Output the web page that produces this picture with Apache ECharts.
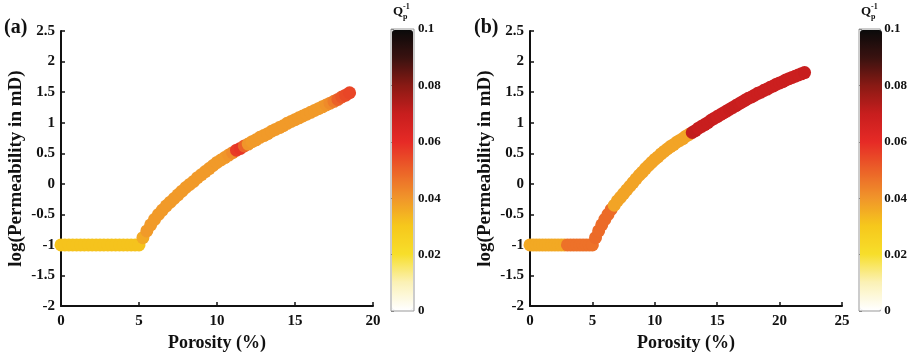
<!DOCTYPE html>
<html>
<head>
<meta charset="utf-8">
<script src="https://cdn.jsdelivr.net/npm/echarts@6/dist/echarts.min.js"></script>
<style>
  html, body { margin: 0; padding: 0; background: #ffffff; }
  #chart { width: 910px; height: 357px; }
</style>
</head>
<body>
<div id="chart"></div>
<script>
// Panel (a): porosity (%), log10 permeability (mD), attenuation Qp^-1
const porosityA = [0, 0.25, 0.5, 0.75, 1, 1.25, 1.5, 1.75, 2, 2.25, 2.5, 2.75, 3, 3.25, 3.5, 3.75, 4, 4.25, 4.5, 4.75, 5,
  5.25, 5.5, 5.75, 6, 6.25, 6.5, 6.75, 7, 7.25, 7.5, 7.75, 8, 8.25, 8.5, 8.75, 9,
  9.25, 9.5, 9.75, 10, 10.25, 10.5, 10.75, 11, 11.25, 11.5, 11.75, 12, 12.25, 12.5, 12.75, 13,
  13.25, 13.5, 13.75, 14, 14.25, 14.5, 14.75, 15, 15.25, 15.5, 15.75, 16, 16.25, 16.5, 16.75, 17,
  17.25, 17.5, 17.75, 18, 18.25, 18.5];
const logPermA = [-1, -1, -1, -1, -1, -1, -1, -1, -1, -1, -1, -1, -1, -1, -1, -1, -1, -1, -1, -1, -1,
  -0.88, -0.77, -0.67, -0.58, -0.50, -0.43, -0.36, -0.30, -0.24, -0.18, -0.12, -0.06, -0.01, 0.04, 0.10, 0.15,
  0.20, 0.25, 0.30, 0.35, 0.39, 0.43, 0.47, 0.51, 0.55, 0.58, 0.62, 0.65, 0.69, 0.72, 0.76, 0.79,
  0.82, 0.86, 0.89, 0.92, 0.95, 0.99, 1.02, 1.05, 1.08, 1.11, 1.14, 1.17, 1.20, 1.23, 1.26, 1.29,
  1.32, 1.35, 1.38, 1.42, 1.45, 1.49];
const qA = [0.031, 0.031, 0.031, 0.031, 0.031, 0.031, 0.031, 0.031, 0.031, 0.031, 0.031,
  0.031, 0.031, 0.031, 0.031, 0.031, 0.031, 0.031, 0.031, 0.031, 0.031,
  0.036, 0.039, 0.039, 0.039, 0.039, 0.039, 0.039, 0.039, 0.039, 0.039, 0.039, 0.039, 0.039, 0.039, 0.039, 0.039,
  0.039, 0.039, 0.039, 0.039, 0.039, 0.039, 0.040, 0.042, 0.057, 0.058, 0.050, 0.040, 0.039, 0.039, 0.039, 0.039,
  0.039, 0.039, 0.039, 0.039, 0.039, 0.039, 0.039, 0.039, 0.039, 0.039, 0.039, 0.039, 0.039, 0.039, 0.039, 0.040,
  0.042, 0.045, 0.050, 0.052, 0.054, 0.055];

// Panel (b)
const porosityB = [0, 0.25, 0.5, 0.75, 1, 1.25, 1.5, 1.75, 2, 2.25, 2.5, 2.75, 3, 3.25, 3.5, 3.75, 4, 4.25, 4.5, 4.75, 5,
  5.25, 5.5, 5.75, 6, 6.25, 6.5, 6.75, 7, 7.25, 7.5, 7.75, 8, 8.25, 8.5, 8.75, 9,
  9.25, 9.5, 9.75, 10, 10.25, 10.5, 10.75, 11, 11.25, 11.5, 11.75, 12, 12.25, 12.5, 12.75, 13,
  13.25, 13.5, 13.75, 14, 14.25, 14.5, 14.75, 15, 15.25, 15.5, 15.75, 16, 16.25, 16.5, 16.75, 17,
  17.25, 17.5, 17.75, 18, 18.25, 18.5, 18.75, 19, 19.25, 19.5, 19.75, 20, 20.25, 20.5, 20.75, 21,
  21.25, 21.5, 21.75, 22];
const logPermB = [-1, -1, -1, -1, -1, -1, -1, -1, -1, -1, -1, -1, -1, -1, -1, -1, -1, -1, -1, -1, -1,
  -0.88, -0.77, -0.67, -0.58, -0.50, -0.42, -0.35, -0.28, -0.22, -0.16, -0.10, -0.04, 0.02, 0.08, 0.14, 0.19,
  0.25, 0.30, 0.35, 0.40, 0.44, 0.49, 0.53, 0.57, 0.61, 0.64, 0.68, 0.71, 0.74, 0.78, 0.81, 0.84,
  0.87, 0.91, 0.94, 0.97, 1.00, 1.04, 1.07, 1.10, 1.13, 1.16, 1.19, 1.22, 1.25, 1.28, 1.31, 1.34,
  1.37, 1.40, 1.42, 1.45, 1.48, 1.50, 1.53, 1.55, 1.58, 1.60, 1.63, 1.65, 1.67, 1.70, 1.72, 1.74,
  1.76, 1.78, 1.80, 1.82];
const qB = [0.036, 0.036, 0.036, 0.036, 0.036, 0.036, 0.036, 0.036, 0.036, 0.036, 0.036, 0.036,
  0.047, 0.047, 0.047, 0.047, 0.047, 0.047, 0.047, 0.047, 0.047,
  0.048, 0.048, 0.048, 0.048, 0.048, 0.048, 0.037, 0.037, 0.037, 0.037, 0.037, 0.037, 0.037, 0.037, 0.037, 0.037,
  0.037, 0.037, 0.037, 0.037, 0.037, 0.037, 0.037, 0.037, 0.037, 0.037, 0.037, 0.037, 0.037, 0.037, 0.037, 0.071,
  0.071, 0.070, 0.070, 0.070, 0.070, 0.070, 0.070, 0.069, 0.069, 0.069, 0.069, 0.070, 0.070, 0.070, 0.070, 0.069,
  0.069, 0.069, 0.069, 0.069, 0.069, 0.069, 0.069, 0.069, 0.069, 0.069, 0.069, 0.069, 0.069, 0.069, 0.069, 0.069,
  0.069, 0.069, 0.069, 0.070];

const xMaxA = 20, xMaxB = 25;
const yTicks = { min: -2, max: 2.5, interval: 0.5 };
const qTicks = { min: 0, max: 0.1, interval: 0.02 };

// hot-style colour scale from white through yellow, orange and red to black
const hotColors = ['#ffffff', '#fbf1b4', '#f7de2a', '#f6c81c', '#f0952a', '#eb6128',
  '#e62a26', '#c81e1e', '#8a1a14', '#3a1210', '#0a0a0a'];

const FONT = 'Liberation Serif';
const black = '#111111';

function plotAxes(gridIndex, xMax) {
  const x = {
    type: 'value', gridIndex: gridIndex, min: 0, max: xMax, interval: 5,
    name: 'Porosity (%)', nameLocation: 'middle', nameGap: 27,
    nameTextStyle: { fontFamily: FONT, fontWeight: 'bold', fontSize: 18, color: black },
    axisLine: { onZero: false, lineStyle: { color: black, width: 2 } },
    axisTick: { inside: true, length: 4, lineStyle: { color: black, width: 1.5 } },
    axisLabel: { fontFamily: FONT, fontWeight: 'bold', fontSize: 15, color: black, margin: 8 },
    splitLine: { show: false }
  };
  const y = {
    type: 'value', gridIndex: gridIndex, min: yTicks.min, max: yTicks.max, interval: yTicks.interval,
    name: 'log(Permeability in mD)', nameLocation: 'middle', nameGap: 35,
    nameTextStyle: { fontFamily: FONT, fontWeight: 'bold', fontSize: 19, color: black },
    axisLine: { onZero: false, lineStyle: { color: black, width: 2 } },
    axisTick: { inside: true, length: 4, lineStyle: { color: black, width: 1.5 } },
    axisLabel: { fontFamily: FONT, fontWeight: 'bold', fontSize: 15, color: black, margin: 6 },
    splitLine: { show: false }
  };
  return { x, y };
}

function barAxes(gridIndex) {
  const x = { type: 'value', gridIndex: gridIndex, show: false, min: 0, max: 1 };
  const y = {
    type: 'value', gridIndex: gridIndex, position: 'right',
    min: qTicks.min, max: qTicks.max, interval: qTicks.interval,
    axisLine: { show: false },
    axisTick: { show: true, length: 3, lineStyle: { color: '#888', width: 1 } },
    axisLabel: { fontFamily: FONT, fontWeight: 'bold', fontSize: 13, color: black, margin: 4 },
    splitLine: { show: false }
  };
  return { x, y };
}

const pa = plotAxes(0, xMaxA);
const pb = plotAxes(1, xMaxB);
const ca = barAxes(2);
const cb = barAxes(3);

const barA = { left: 392, top: 30, width: 21, height: 280 };
const barB = { left: 860, top: 30, width: 22, height: 280 };

function colorbarMap(seriesIndex, box) {
  return {
    type: 'continuous', seriesIndex: seriesIndex, dimension: 2,
    min: qTicks.min, max: qTicks.max,
    left: box.left, top: box.top, itemWidth: box.width, itemHeight: box.height,
    padding: 0, calculable: false, hoverLink: false,
    inRange: { color: hotColors },
    textStyle: { color: 'transparent' }
  };
}

function qLabel(x) {
  return [
    { type: 'text', left: x, top: 5, style: { text: 'Q', font: 'bold 13px "' + FONT + '"', fill: black } },
    { type: 'text', left: x + 10, top: 13, style: { text: 'p', font: 'bold 8px "' + FONT + '"', fill: black } },
    { type: 'text', left: x + 10, top: 3, style: { text: '-1', font: 'bold 8px "' + FONT + '"', fill: black } }
  ];
}

const curveStyle = { opacity: 1 };

const chart = echarts.init(document.getElementById('chart'));
chart.setOption({
  backgroundColor: '#ffffff',
  animation: false,
  grid: [
    { left: 61, top: 31, width: 312, height: 279 },
    { left: 530, top: 31, width: 312, height: 279 },
    { left: barA.left - 1, top: barA.top - 1, width: barA.width + 2, height: barA.height + 2,
      show: true, borderColor: '#999', borderWidth: 1, backgroundColor: 'transparent' },
    { left: barB.left - 1, top: barB.top - 1, width: barB.width + 2, height: barB.height + 2,
      show: true, borderColor: '#999', borderWidth: 1, backgroundColor: 'transparent' }
  ],
  xAxis: [pa.x, pb.x, ca.x, cb.x],
  yAxis: [pa.y, pb.y, ca.y, cb.y],
  visualMap: [colorbarMap(0, barA), colorbarMap(1, barB)],
  series: [
    {
      type: 'scatter', xAxisIndex: 0, yAxisIndex: 0, symbolSize: 13,
      itemStyle: curveStyle,
      data: porosityA.map((p, i) => [p, logPermA[i], qA[i]])
    },
    {
      type: 'scatter', xAxisIndex: 1, yAxisIndex: 1, symbolSize: 13,
      itemStyle: curveStyle,
      data: porosityB.map((p, i) => [p, logPermB[i], qB[i]])
    }
  ],
  graphic: [
    { type: 'text', left: 4, top: 18, style: { text: '(a)', font: 'bold 20px "' + FONT + '"', fill: black } },
    { type: 'text', left: 474, top: 18, style: { text: '(b)', font: 'bold 20px "' + FONT + '"', fill: black } }
  ].concat(qLabel(393), qLabel(861))
});
</script>
</body>
</html>
